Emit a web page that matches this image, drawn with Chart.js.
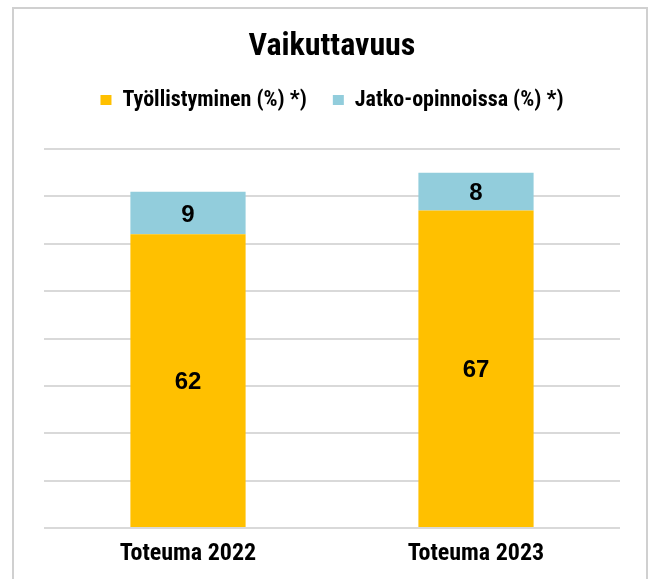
<!DOCTYPE html>
<html>
<head>
<meta charset="utf-8">
<script src="https://cdn.jsdelivr.net/npm/chart.js@4.4.1/dist/chart.umd.min.js"></script>
<style>
  html, body { margin: 0; padding: 0; background: #ffffff; overflow: hidden; }
  #frame { position: absolute; left: 12px; top: 7px; width: 636px; height: 620px; border: 2px solid #d0d0d0; box-sizing: border-box; }
  #wrap { position: absolute; left: 0; top: 0; width: 651px; height: 579px; }
</style>
</head>
<body>
<div id="frame"></div>
<div id="wrap"><canvas id="c" width="651" height="579"></canvas></div>
<script>
const categories = ["Toteuma 2022", "Toteuma 2023"];
const tyollistyminen = [62, 67];
const jatkoOpinnoissa = [9, 8];
const seriesNames = ["Työllistyminen (%) *)", "Jatko-opinnoissa (%) *)"];
const yTicks = [0, 10, 20, 30, 40, 50, 60, 70, 80];

const NARROW = '"Roboto Condensed", "Open Sans Condensed", "DejaVu Sans Condensed", sans-serif';

const valueLabels = {
  id: 'valueLabels',
  afterDatasetsDraw(chart) {
    const ctx = chart.ctx;
    ctx.save();
    ctx.font = 'bold 24px "Liberation Sans", Arial, sans-serif';
    ctx.fillStyle = '#000000';
    ctx.textAlign = 'center';
    ctx.textBaseline = 'middle';
    chart.data.datasets.forEach((ds, di) => {
      const meta = chart.getDatasetMeta(di);
      meta.data.forEach((bar, i) => {
        const p = bar.getProps(['x', 'y', 'base'], true);
        ctx.fillText(String(ds.data[i]), p.x, (p.y + p.base) / 2 + 2);
      });
    });
    ctx.restore();
  }
};

new Chart(document.getElementById('c'), {
  type: 'bar',
  data: {
    labels: categories,
    datasets: [
      { label: seriesNames[0], data: tyollistyminen, backgroundColor: '#FFC000', borderWidth: 0, xAxisID: 'x' },
      { label: seriesNames[1], data: jatkoOpinnoissa, backgroundColor: '#92CDDC', borderWidth: 0, xAxisID: 'x' }
    ]
  },
  options: {
    responsive: false,
    animation: false,
    devicePixelRatio: 1,
    layout: { padding: { left: 44, right: 31, top: 0, bottom: -1 } },
    datasets: { bar: { categoryPercentage: 0.8, barPercentage: 0.5 } },
    plugins: {
      title: {
        display: true,
        text: 'Vaikuttavuus',
        color: '#000000',
        font: { family: NARROW, size: 32, weight: 'bold', lineHeight: 1.0 },
        padding: { top: 31, bottom: 0 }
      },
      legend: {
        display: true,
        position: 'top',
        labels: {
          color: '#000000',
          font: { family: NARROW, size: 22, weight: 'bold' },
          boxWidth: 11,
          boxHeight: 10,
          padding: 26
        }
      },
      tooltip: { enabled: false }
    },
    scales: {
      x: {
        stacked: true,
        grid: { display: false, drawTicks: false },
        border: { display: false },
        ticks: { color: '#000000', font: { family: NARROW, size: 24, weight: 'bold', lineHeight: 1.0 }, padding: 14 }
      },
      xSpacer: {
        type: 'category',
        position: 'top',
        display: true,
        grid: { display: false, drawTicks: false },
        border: { display: false },
        ticks: { display: false },
        afterFit(scale) { scale.height = 28; }
      },
      y: {
        stacked: true,
        min: yTicks[0],
        max: yTicks[yTicks.length - 1],
        afterBuildTicks(scale) { scale.ticks = yTicks.map(v => ({ value: v })); },
        ticks: { display: false },
        grid: { color: '#d9d9d9', lineWidth: 2, drawTicks: false },
        border: { display: false }
      }
    }
  },
  plugins: [valueLabels]
});
</script>
</body>
</html>
